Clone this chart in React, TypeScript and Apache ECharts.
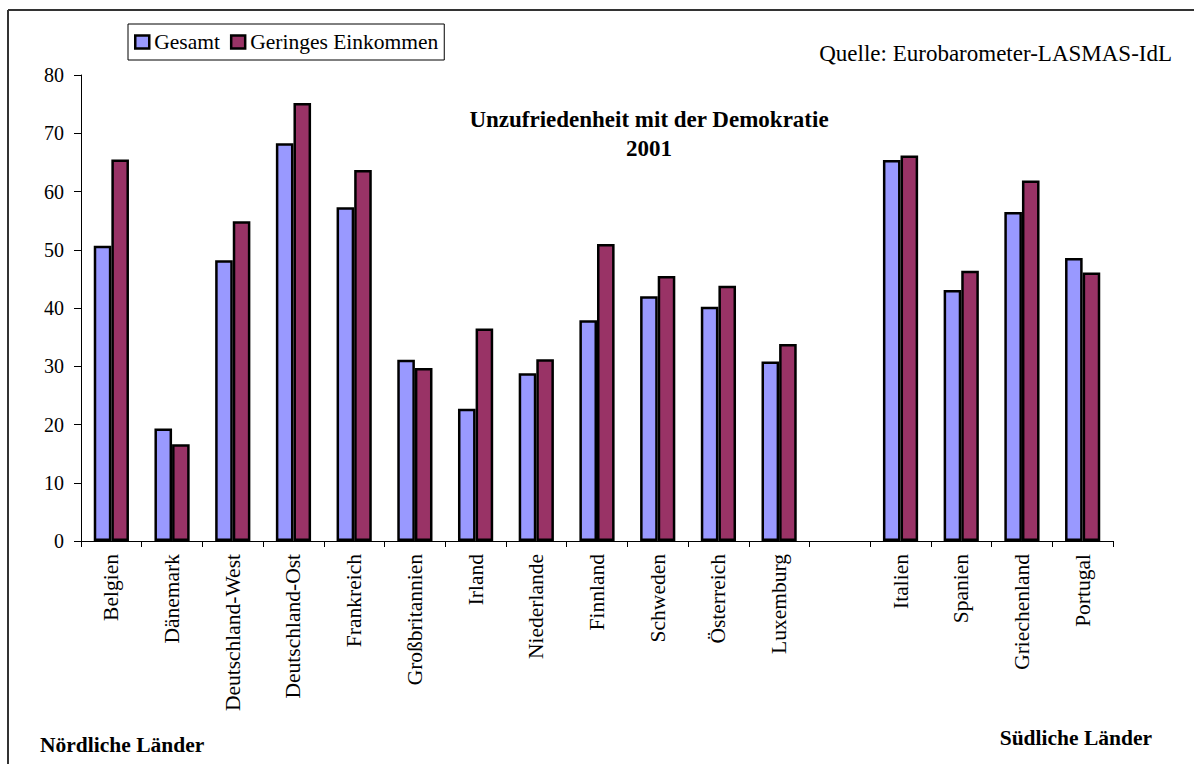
import React, { useEffect, useRef } from "react";
import * as echarts from "echarts";

// Countries, with an empty slot separating the northern and southern groups
const countries = [
  "Belgien",
  "Dänemark",
  "Deutschland-West",
  "Deutschland-Ost",
  "Frankreich",
  "Großbritannien",
  "Irland",
  "Niederlande",
  "Finnland",
  "Schweden",
  "Österreich",
  "Luxemburg",
  "",
  "Italien",
  "Spanien",
  "Griechenland",
  "Portugal",
];

// Share dissatisfied with democracy (%), all respondents
const gesamt: (number | null)[] = [
  50.7, 19.3, 48.2, 68.3, 57.3, 31.1, 22.7, 28.8, 37.9, 42.0, 40.2, 30.8,
  null, 65.4, 43.1, 56.5, 48.6,
];

// Share dissatisfied with democracy (%), low-income respondents
const geringesEinkommen: (number | null)[] = [
  65.5, 16.6, 54.9, 75.2, 63.7, 29.7, 36.5, 31.2, 51.0, 45.5, 43.8, 33.8,
  null, 66.2, 46.4, 61.9, 46.1,
];

const yTicks = { min: 0, max: 80, interval: 10 };

const SERIF = "'Liberation Serif', 'Times New Roman', serif";

export default function App() {
  const ref = useRef<HTMLDivElement>(null);

  useEffect(() => {
    if (!ref.current) return;
    const chart = echarts.init(ref.current, null, { renderer: "svg" });
    const toData = (arr: (number | null)[]) =>
      arr.map((v) => (v === null ? "-" : v));

    chart.setOption({
      animation: false,
      backgroundColor: "#ffffff",
      textStyle: { fontFamily: SERIF, color: "#000" },
      title: {
        text: "Unzufriedenheit mit der Demokratie\n2001",
        left: 644,
        top: 100,
        textAlign: "center",
        textStyle: {
          fontFamily: SERIF,
          fontWeight: "bold",
          fontSize: 23,
          lineHeight: 29,
          color: "#000",
        },
      },
      legend: {
        left: 128,
        top: 24,
        orient: "horizontal",
        padding: [7, 6, 7, 6],
        itemGap: 10,
        itemWidth: 14,
        itemHeight: 13,
        icon: "rect",
        borderColor: "#000",
        borderWidth: 1,
        backgroundColor: "#fff",
        itemStyle: { borderColor: "#000", borderWidth: 2.5 },
        textStyle: { fontFamily: SERIF, fontSize: 21.5, color: "#000" },
        data: ["Gesamt", "Geringes Einkommen"],
      },
      grid: {
        left: 81,
        right: 81,
        top: 75,
        bottom: 223,
        containLabel: false,
      },
      xAxis: {
        type: "category",
        data: countries,
        axisLine: { lineStyle: { color: "#000", width: 1 } },
        axisTick: {
          show: true,
          alignWithLabel: false,
          interval: 0,
          length: 6,
          lineStyle: { color: "#000" },
        },
        axisLabel: {
          interval: 0,
          rotate: 90,
          margin: 13,
          fontFamily: SERIF,
          fontSize: 21.5,
          color: "#000",
        },
      },
      yAxis: {
        type: "value",
        min: yTicks.min,
        max: yTicks.max,
        interval: yTicks.interval,
        splitLine: { show: false },
        axisLine: { show: true, lineStyle: { color: "#000", width: 1 } },
        axisTick: { show: true, length: 7, lineStyle: { color: "#000" } },
        axisLabel: {
          margin: 17,
          fontFamily: SERIF,
          fontSize: 20,
          color: "#000",
        },
      },
      series: [
        {
          name: "Gesamt",
          type: "bar",
          data: toData(gesamt),
          barGap: "0%",
          barCategoryGap: "42%",
          itemStyle: { color: "#9999FF", borderColor: "#000", borderWidth: 2.5 },
        },
        {
          name: "Geringes Einkommen",
          type: "bar",
          data: toData(geringesEinkommen),
          barGap: "0%",
          barCategoryGap: "42%",
          itemStyle: { color: "#993366", borderColor: "#000", borderWidth: 2.5 },
        },
      ],
      graphic: [
        // frame around the chart area
        {
          type: "line",
          shape: { x1: 8, y1: 10, x2: 1194, y2: 10 },
          style: { stroke: "#333", lineWidth: 2 },
        },
        {
          type: "line",
          shape: { x1: 8, y1: 10, x2: 8, y2: 764 },
          style: { stroke: "#333", lineWidth: 2 },
        },
        {
          type: "text",
          x: 1172,
          y: 53,
          style: {
            text: "Quelle: Eurobarometer-LASMAS-IdL",
            fontFamily: SERIF,
            fontSize: 23,
            fill: "#000",
            align: "right",
            verticalAlign: "middle",
          },
        },
        {
          type: "text",
          x: 40,
          y: 745,
          style: {
            text: "Nördliche Länder",
            fontFamily: SERIF,
            fontSize: 21.5,
            fontWeight: "bold",
            fill: "#000",
            align: "left",
            verticalAlign: "middle",
          },
        },
        {
          type: "text",
          x: 1152,
          y: 738,
          style: {
            text: "Südliche Länder",
            fontFamily: SERIF,
            fontSize: 21.5,
            fontWeight: "bold",
            fill: "#000",
            align: "right",
            verticalAlign: "middle",
          },
        },
      ],
    });

    return () => chart.dispose();
  }, []);

  return (
    <div
      ref={ref}
      style={{
        position: "absolute",
        left: 0,
        top: 0,
        width: 1194,
        height: 764,
        background: "#fff",
      }}
    />
  );
}
